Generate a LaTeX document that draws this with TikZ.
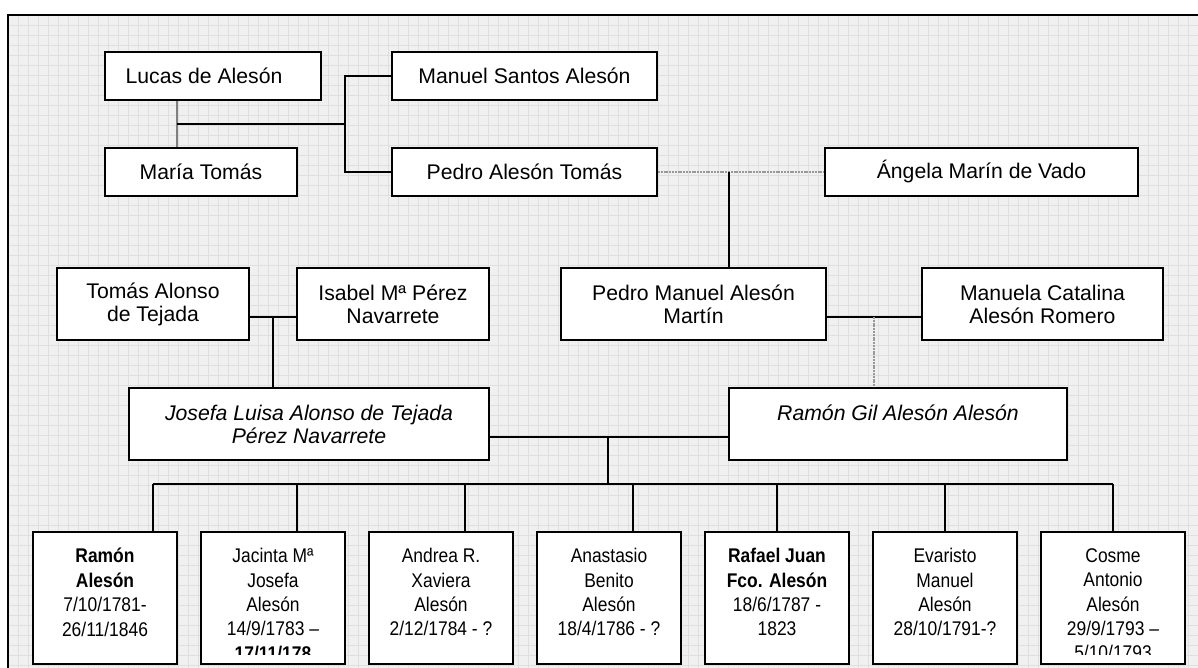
\documentclass[tikz,border=0pt]{standalone}
\usepackage{fontspec}
\setmainfont{Liberation Sans}
\newfontfamily\kidfont[FakeStretch=0.88]{Liberation Sans}
\usepackage{tikz}

\begin{document}
\begin{tikzpicture}[x=0.5pt,y=-0.5pt,
    person/.style={draw,line width=1pt,fill=white,inner sep=0,align=center,
                   font=\fontsize{10.6}{11.5}\selectfont},
    parent/.style={person,font=\fontsize{10.6}{11.5}\selectfont\itshape},
    kid/.style={draw,line width=1pt,fill=white,inner sep=0,
                minimum width=72pt,minimum height=66pt},
    kidtext/.style={anchor=north,inner sep=0,align=center,
                    font=\kidfont\fontsize{9.9}{12.2}\selectfont,
                    execute at begin node=\strut},
    link/.style={line width=0.7pt},
    faint/.style={gray!80,line width=0.6pt,dash pattern=on 1pt off 0.4pt}]

    \useasboundingbox (0,0) rectangle (1198,668);

    % Grid paper
    \fill[gray!12] (8,15) rectangle (1198,668);
    \foreach \gx in {18,28,...,1198} \draw[gray!25,line width=0.4pt] (\gx,15) -- (\gx,668);
    \foreach \gy in {25,35,...,668} \draw[gray!25,line width=0.4pt] (8,\gy) -- (1198,\gy);
    \draw[line width=0.8pt] (8,668) -- (8,15) -- (1198,15);

    % First generations
    \node[person,minimum width=108pt,minimum height=24pt] (lucas) at (213,76) {Lucas de Alesón\hspace*{9pt}};
    \node[person,minimum width=96pt,minimum height=24pt] (maria) at (201,172) {María Tomás};
    \node[person,minimum width=132.5pt,minimum height=24pt] (manuel) at (524.5,76) {Manuel Santos Alesón};
    \node[person,minimum width=132.5pt,minimum height=24pt] (pedro) at (524.5,172) {Pedro Alesón Tomás};
    \node[person,minimum width=156.5pt,minimum height=24pt] (angela) at (981.5,172) {Ángela Marín de Vado};

    \node[person,minimum width=96pt,minimum height=36pt] (tomas) at (153,304) {Tomás Alonso\\de Tejada};
    \node[person,minimum width=96pt,minimum height=36pt] (isabel) at (393,304) {Isabel Mª Pérez\\Navarrete};
    \node[person,minimum width=132.5pt,minimum height=36pt] (pedroman) at (693.5,304) {Pedro Manuel Alesón\\Martín};
    \node[person,minimum width=120.5pt,minimum height=36pt] (manuela) at (1042.5,304) {Manuela Catalina\\Alesón Romero};

    % Parents
    \node[parent,minimum width=180pt,minimum height=36pt] (josefa) at (309,424) {Josefa Luisa Alonso de Tejada\\Pérez Navarrete};
    \node[parent,minimum width=169pt,minimum height=36pt] (ramongil) at (898,424) {Ramón Gil Alesón Alesón\\\mbox{}};

    % Lucas and María
    \coordinate (lm) at (177,124);
    \coordinate (lmsplit) at (345,124);
    \draw[gray,line width=0.8pt] (lm |- lucas.south) -- (lm |- maria.north);
    \draw[link] (lm) -- (lmsplit);
    \draw[link] (manuel.west) -| (lmsplit) |- (pedro.west);

    % Pedro and Ángela
    \coordinate (pa) at (729,172);
    \draw[faint] (pedro.east) -- (angela.west);
    \draw[link] (pa) -- (pa |- pedroman.north);

    % Pedro Manuel and Manuela
    \coordinate (pm) at (874,317);
    \draw[link] (pedroman.east |- pm) -- (manuela.west |- pm);
    \draw[faint] (pm) -- (pm |- ramongil.north);

    % Tomás and Isabel
    \coordinate (ti) at (273,317);
    \draw[link] (tomas.east |- ti) -- (isabel.west |- ti);
    \draw[link] (ti) -- (ti |- josefa.north);

    % Josefa and Ramón Gil
    \coordinate (jr) at (608,437);
    \coordinate (bus) at (608,484);
    \draw[link] (josefa.east |- jr) -- (ramongil.west |- jr);
    \draw[link] (jr) -- (bus);

    % Children
    \foreach \n in {1,...,7} \node[kid] (k\n) at ({105+168*(\n-1)},598) {};
    \coordinate (busl) at (153,484);
    \coordinate (busr) at (1113,484);
    \draw[link] (busl) -- (busr);
    \foreach \n/\dx in {1/153,2/297,3/465,4/633,5/777,6/945,7/1113}
        \draw[link] (\dx,484) -- (\dx,0 |- k\n.north);

    \begin{scope}
        \clip (33,532) rectangle (1186,654);
        \node[kidtext] (t1) at (105,548) {\textbf{Ramón}\\\textbf{Alesón}\\7/10/1781-\\26/11/1846};
        \node[kidtext] (t2) at (273,548) {Jacinta Mª\\Josefa\\Alesón\\14/9/1783 –\\\textbf{17/11/178}};
        \node[kidtext] (t3) at (441,548) {Andrea R.\\Xaviera\\Alesón\\2/12/1784 - ?};
        \node[kidtext] (t4) at (609,548) {Anastasio\\Benito\\Alesón\\18/4/1786 - ?};
        \node[kidtext] (t5) at (777,548) {\textbf{Rafael Juan}\\\textbf{Fco. Alesón}\\18/6/1787 -\\1823};
        \node[kidtext] (t6) at (945,548) {Evaristo\\Manuel\\Alesón\\28/10/1791-?};
        \node[kidtext] (t7) at (1113,548) {Cosme\\Antonio\\Alesón\\29/9/1793 –\\5/10/1793};
    \end{scope}

\end{tikzpicture}
\end{document}
